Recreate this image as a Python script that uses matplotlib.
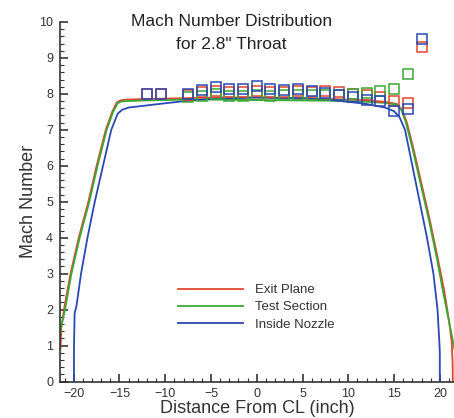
import matplotlib
matplotlib.use("Agg")
import matplotlib.pyplot as plt
from matplotlib.ticker import MultipleLocator

plt.rcParams['font.family'] = ['Liberation Sans', 'DejaVu Sans']

# ---- Data ----
exit_x = [-21.45, -21.35, -21.0, -20.35, -19.45, -18.4, -17.5, -16.5, -15.8, -15.3, -14.9, -14.3, -12, -8, -4, 0, 4, 8, 12, 14, 15.3, 15.9, 16.4, 17.1, 18.0, 18.9, 19.8, 20.5, 21.0, 21.3, 21.4, 21.42]
exit_y = [0.9, 1.5, 2.1, 3.0, 4.0, 5.0, 6.0, 7.0, 7.5, 7.76, 7.82, 7.84, 7.86, 7.88, 7.9, 7.9, 7.88, 7.86, 7.82, 7.78, 7.72, 7.55, 7.2, 6.5, 5.5, 4.5, 3.4, 2.5, 1.7, 1.1, 0.5, 0.0]

test_x = [-21.55, -21.35, -20.95, -20.25, -19.35, -18.3, -17.4, -16.4, -15.7, -15.2, -14.8, -14.2, -12, -8, -4, 0, 4, 8, 12, 14, 15.3, 15.8, 16.3, 17.0, 17.9, 18.8, 19.7, 20.35, 20.9, 21.3, 21.6]
test_y = [1.2, 1.55, 2.0, 3.0, 4.0, 5.0, 6.0, 7.0, 7.5, 7.74, 7.79, 7.8, 7.82, 7.84, 7.84, 7.83, 7.82, 7.81, 7.78, 7.75, 7.7, 7.55, 7.2, 6.5, 5.5, 4.5, 3.4, 2.5, 1.8, 1.3, 0.9]

nozzle_x = [-19.98, -19.97, -19.9, -19.7, -19.2, -18.5, -17.7, -16.8, -15.9, -15.2, -14.7, -14.0, -12, -10, -7.5, -5, 0, 5, 8, 10, 12, 14, 15.0, 15.6, 16.2, 17.0, 17.8, 18.6, 19.3, 19.75, 19.97, 20.0, 20.0]
nozzle_y = [0.0, 1.0, 1.9, 2.1, 3.0, 4.0, 5.0, 6.0, 7.0, 7.45, 7.56, 7.62, 7.68, 7.74, 7.81, 7.86, 7.9, 7.88, 7.83, 7.78, 7.72, 7.62, 7.52, 7.35, 7.0, 6.0, 5.0, 4.0, 3.0, 2.0, 1.0, 0.8, 0.0]

exit_mx = [-12, -10.5, -7.5, -6, -4.5, -3, -1.5, 0, 1.5, 3, 4.5, 6, 7.5, 9, 10.5, 12, 13.5, 15, 16.5, 18]
exit_my = [8.0, 8.0, 7.98, 8.04, 8.09, 8.06, 8.06, 8.08, 8.06, 8.05, 8.07, 8.06, 8.07, 8.04, 8.01, 7.96, 7.92, 7.79, 7.76, 9.3]

test_mx = [-7.5, -6, -4.5, -3, -1.5, 0, 1.5, 3, 4.5, 6, 7.5, 9, 10.5, 12, 13.5, 15, 16.5]
test_my = [7.92, 7.95, 7.99, 7.95, 7.95, 7.97, 7.95, 7.96, 7.98, 7.98, 7.96, 7.96, 8.0, 8.03, 8.07, 8.13, 8.55]

nozzle_mx = [-12, -10.5, -7.5, -6, -4.5, -3, -1.5, 0, 1.5, 3, 4.5, 6, 7.5, 9, 10.5, 12, 13.5, 15, 16.5, 18]
nozzle_my = [8.0, 8.0, 8.0, 8.1, 8.2, 8.13, 8.14, 8.23, 8.13, 8.11, 8.13, 8.07, 8.02, 7.98, 7.92, 7.84, 7.8, 7.52, 7.58, 9.52]

labels = ["Exit Plane", "Test Section", "Inside Nozzle"]

RED = '#e0462e'
GREEN = '#3aa834'
BLUE = '#2b48b3'

top_px, bot_px = 22.0, 381.5
fig = plt.figure(figsize=(4.54, 4.18), dpi=100)
ax = fig.add_axes([60/454, (418-bot_px)/418, (454-60)/454, (bot_px-top_px)/418])

lw = 1.3
l1, = ax.plot(exit_x, exit_y, color=RED, lw=lw, label=labels[0])
l2, = ax.plot(test_x, test_y, color=GREEN, lw=lw, label=labels[1])
l3, = ax.plot(nozzle_x, nozzle_y, color=BLUE, lw=lw, label=labels[2])

ms = 6.5
ax.plot(exit_mx, exit_my, ls='none', marker='s', ms=ms, mfc='none', mec=RED, mew=1.1)
ax.plot(test_mx, test_my, ls='none', marker='s', ms=ms, mfc='none', mec=GREEN, mew=1.1)
ax.plot(nozzle_mx, nozzle_my, ls='none', marker='s', ms=ms, mfc='none', mec=BLUE, mew=1.1)

ax.set_xlim(-21.5, 21.55)
ax.set_ylim(0, 10)

for s in ['top', 'right']:
    ax.spines[s].set_visible(False)
for s in ['left', 'bottom']:
    ax.spines[s].set_linewidth(1.2)
    ax.spines[s].set_color('#333333')

ax.xaxis.set_major_locator(MultipleLocator(5))
ax.xaxis.set_minor_locator(MultipleLocator(1))
ax.yaxis.set_major_locator(MultipleLocator(1))
ax.yaxis.set_minor_locator(MultipleLocator(0.2))
ax.tick_params(which='both', direction='in', colors='#333333', labelcolor='#333333')
ax.tick_params(which='major', length=6, width=1.2, labelsize=9, pad=5)
ax.tick_params(which='minor', length=3, width=0.8)
ax.tick_params(axis='both', which='both', top=False, right=False)

ax.set_xlabel('Distance From CL (inch)', fontsize=13, color='#333333', labelpad=0)
ax.set_ylabel('Mach Number', fontsize=13, color='#333333', labelpad=1.5)

ax.text(0.435, 1.022, 'Mach Number Distribution\nfor 2.8" Throat', transform=ax.transAxes,
        ha='center', va='top', fontsize=12.5, color='#222222', linespacing=1.62)

leg = ax.legend(handles=[l1, l2, l3], loc='upper left', bbox_to_anchor=((178-60)/394, (bot_px-284)/(bot_px-top_px)),
                frameon=False, fontsize=9.5, handlelength=4.9, handletextpad=0.95,
                labelspacing=0.38, borderpad=0, borderaxespad=0)
for t in leg.get_texts():
    t.set_color('#333333')

fig.savefig('out.png', dpi=100)
